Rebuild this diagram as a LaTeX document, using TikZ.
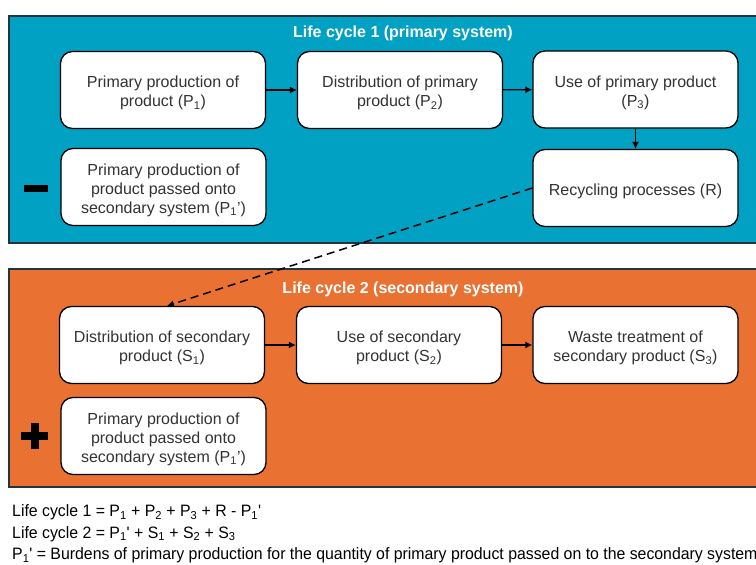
\documentclass[tikz,border=0pt]{standalone}
\usepackage{fontspec}
\setmainfont{Liberation Sans}
\newfontfamily\narrowfont[FakeStretch=0.96]{Liberation Sans}
\usetikzlibrary{arrows.meta}
\definecolor{lcblue}{HTML}{00A1C2}
\definecolor{lcorange}{HTML}{E97233}
\definecolor{panelline}{HTML}{24343F}
\definecolor{boxtext}{HTML}{333333}
\newcommand{\sub}[1]{\textsubscript{#1}}
\begin{document}
\begin{tikzpicture}[x=1pt,y=-1pt,
  panel/.style={draw=panelline, line width=1.4pt},
  stage/.style={draw=black, fill=white, rounded corners=12pt, line width=1.3pt,
    minimum width=205pt, minimum height=77pt},
  stagetext/.style={align=center, inner sep=0pt, yshift=-3pt,
    text=boxtext, font=\fontsize{16}{19}\selectfont},
  paneltitle/.style={text=white, font=\fontsize{16}{19}\selectfont\bfseries},
  flow/.style={-{Latex[length=7pt,width=7pt]}, line width=1.2pt},
  carry/.style={-{Latex[length=7pt,width=7pt]}, line width=1.5pt, dash pattern=on 8pt off 5pt},
  legend/.style={anchor=base west, inner sep=0pt, font=\narrowfont\fontsize{16.5}{20}\selectfont}
]
\useasboundingbox (0,0) rectangle (756,565);
\fill[white] (0,0) rectangle (756,565);

% primary system panel
\draw[panel, fill=lcblue] (9,16) rectangle (780,243);
\node[paneltitle] (t1) at (403,33.5) {Life cycle 1 (primary system)};
\node[stage, label={[stagetext]center:{Primary production of\\product (P\sub{1})}}] (p1) at (163,90) {};
\node[stage, label={[stagetext]center:{Distribution of primary\\product (P\sub{2})}}] (p2) at (400,90) {};
\node[stage, label={[stagetext]center:{Use of primary product\\(P\sub{3})}}] (p3) at (635.5,89.5) {};
\node[stage, label={[stagetext]center:{Recycling processes (R)}}] (r) at (635.5,188) {};
\node[stage, label={[stagetext]center:{Primary production of\\product passed onto\\secondary system (P\sub{1}')}}] (p1a) at (163.5,187) {};
\fill (24,185) rectangle (48,192);

\draw[flow] (p1) -- (p2);
\draw[flow] (p2) -- (p3);
\draw[flow] (p3) -- (r);

% secondary system panel
\draw[panel, fill=lcorange] (9,269) rectangle (780,487);
\node[paneltitle] (t2) at (403,289.5) {Life cycle 2 (secondary system)};
\node[stage, label={[stagetext]center:{Distribution of secondary\\product (S\sub{1})}}] (s1) at (162,345) {};
\node[stage, label={[stagetext]center:{Use of secondary\\product (S\sub{2})}}] (s2) at (399,345) {};
\node[stage, label={[stagetext]center:{Waste treatment of\\secondary product (S\sub{3})}}] (s3) at (635.5,345) {};
\node[stage, label={[stagetext]center:{Primary production of\\product passed onto\\secondary system (P\sub{1}')}}] (p1b) at (163.5,436) {};
\fill (21,432) rectangle (48,440);
\fill (30.5,423) rectangle (38.5,449);

\draw[flow] (s1) -- (s2);
\draw[flow] (s2) -- (s3);
\draw[carry] (r.west) -- ([xshift=5pt]s1.north);

% equations
\node[legend] (e1) at (12,516.5) {Life cycle 1 = P\sub{1} + P\sub{2} + P\sub{3} + R - P\sub{1}'};
\node[legend] (e2) at (12,538) {Life cycle 2 = P\sub{1}' + S\sub{1} + S\sub{2} + S\sub{3}};
\node[legend] (e3) at (12,559.5) {P\sub{1}' = Burdens of primary production for the quantity of primary product passed on to the secondary system};
\end{tikzpicture}
\end{document}
